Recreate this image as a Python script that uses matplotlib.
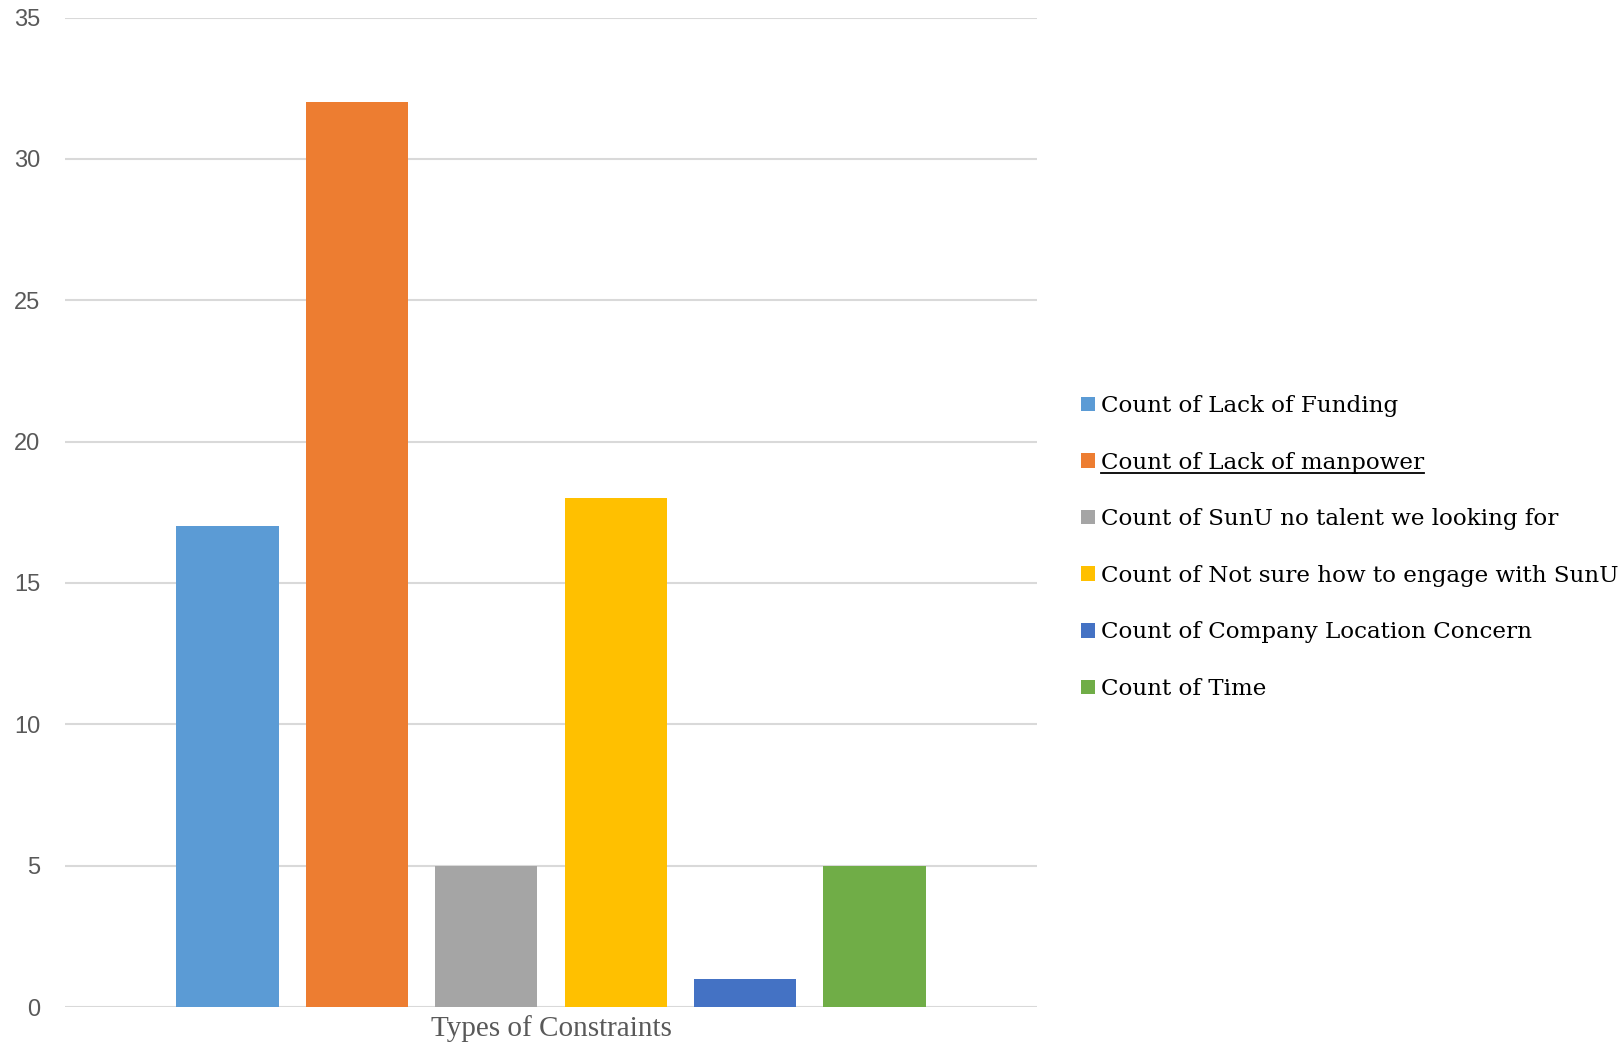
import matplotlib
matplotlib.use('Agg')
import matplotlib.pyplot as plt
from matplotlib.patches import Patch
from matplotlib.lines import Line2D

# data
labels = ['Count of Lack of Funding', 'Count of Lack of manpower',
          'Count of SunU no talent we looking for',
          'Count of Not sure how to engage with SunU',
          'Count of Company Location Concern', 'Count of Time']
counts = [17, 32, 5, 18, 1, 5]
colors = ['#5B9BD5', '#ED7D31', '#A5A5A5', '#FFC000', '#4472C4', '#70AD47']
yticks = [0, 5, 10, 15, 20, 25, 30, 35]
xlabel = 'Types of Constraints'

fig = plt.figure(figsize=(16.21, 10.43), dpi=100)
ax = fig.add_axes([0.0401, 0.0345, 0.5996, 0.9486])

xs = list(range(len(counts)))
ax.bar(xs, counts, width=0.79, color=colors, zorder=3)

ax.set_xlim(-1.256, len(counts) - 1 + 1.256)
ax.set_ylim(0, 35)
ax.set_yticks(yticks)
ax.set_xticks([])
ax.grid(axis='y', color='#d9d9d9', linewidth=1.5, zorder=0)
for s in ['top', 'right', 'left', 'bottom']:
    ax.spines[s].set_visible(False)
ax.tick_params(axis='y', length=0, pad=18, labelsize=17, labelcolor='#595959')
for t in ax.get_yticklabels():
    t.set_family('Liberation Sans')
ax.set_xlabel(xlabel, family='Liberation Serif', fontsize=21, color='#595959', labelpad=6)

handles = [Patch(facecolor=c, edgecolor='none') for c in colors]
leg = ax.legend(handles, labels, loc='center left', bbox_to_anchor=(0.667, 0.475),
                bbox_transform=fig.transFigure, frameon=False,
                prop={'family': 'DejaVu Serif', 'size': 16.6},
                handlelength=0.6, handleheight=0.6, handletextpad=0.25,
                labelspacing=1.5, borderpad=0, borderaxespad=0)

# underline the second legend entry like the original
fig.canvas.draw()
txt = leg.get_texts()[1]
bb = txt.get_window_extent(fig.canvas.get_renderer())
inv = fig.transFigure.inverted()
(x0, y0), (x1, y1) = inv.transform([(bb.x0, bb.y0), (bb.x1, bb.y0)])
fig.add_artist(Line2D([x0, x1], [y0 + 0.001, y0 + 0.001], transform=fig.transFigure,
                      color='black', linewidth=1.3))

fig.savefig('out.png', dpi=100)
